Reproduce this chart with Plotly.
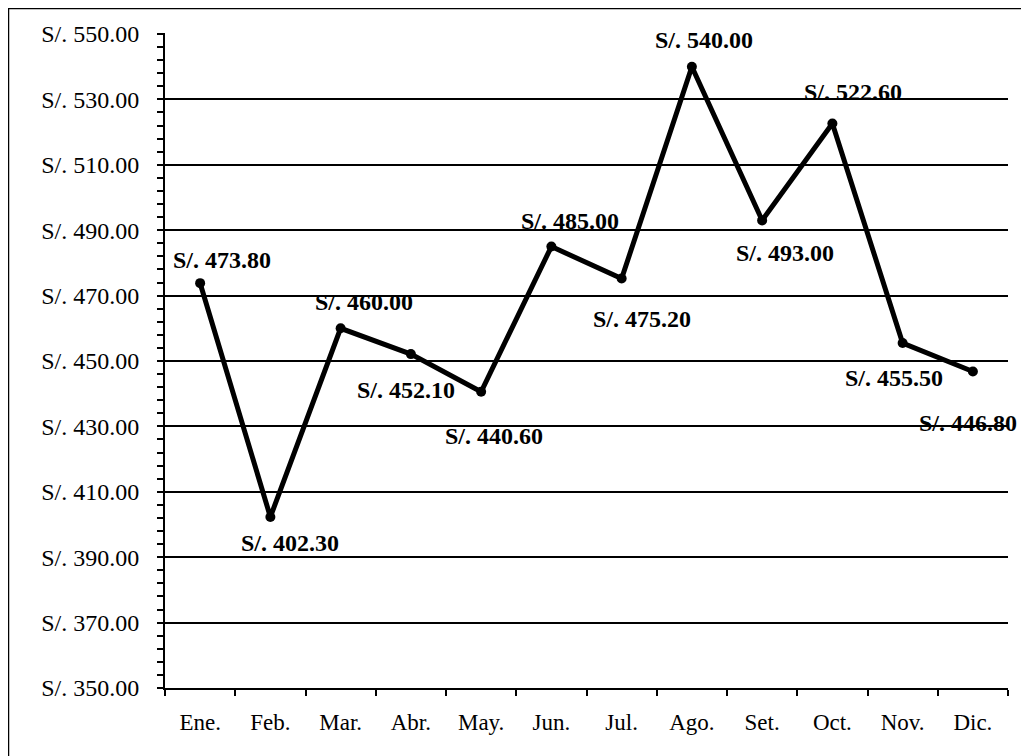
import plotly.graph_objects as go

# Meses y montos (S/.)
MESES = ["Ene.", "Feb.", "Mar.", "Abr.", "May.", "Jun.",
         "Jul.", "Ago.", "Set.", "Oct.", "Nov.", "Dic."]
MONTOS = [473.80, 402.30, 460.00, 452.10, 440.60, 485.00,
          475.20, 540.00, 493.00, 522.60, 455.50, 446.80]

# desplazamiento de cada etiqueta respecto a su punto (px: derecha, arriba)
OFFSETS = [(22, 23), (20, -26), (23, 26), (-5, -36), (13, -44), (19, 26),
           (20, -40), (12, 27), (23, -33), (21, 32), (-9, -35), (-5, -52)]

FONT = "Liberation Serif"

fig = go.Figure(go.Scatter(
    x=MESES, y=MONTOS, mode="lines+markers",
    line=dict(color="black", width=5),
    marker=dict(color="black", size=10),
    hoverinfo="skip",
))

for mes, v, (dx, dy) in zip(MESES, MONTOS, OFFSETS):
    fig.add_annotation(x=mes, y=v, xref="x", yref="y", text=f"<b>S/. {v:.2f}</b>",
                       showarrow=False, xshift=dx, yshift=dy,
                       font=dict(family=FONT, size=24, color="black"))

# marco exterior (borde de la figura)
fig.add_shape(type="rect", xref="paper", yref="paper",
              x0=-157 / 843, x1=1.2, y0=-0.3, y1=1 + 25 / 655,
              line=dict(color="black", width=2.5), layer="below")

fig.update_xaxes(
    type="category", range=[-0.5, len(MESES) - 0.5],
    showline=True, linecolor="black", linewidth=2,
    ticks="outside", tickson="boundaries", ticklen=6, tickcolor="black", tickwidth=1.5,
    showgrid=False, tickfont=dict(family=FONT, size=23, color="black"),
    ticklabelstandoff=12, automargin=False,
)
fig.update_yaxes(
    range=[350, 550.3], tick0=350, dtick=20, tickprefix="S/. ", tickformat=".2f",
    showline=True, linecolor="black", linewidth=2,
    ticks="outside", ticklen=6, tickcolor="black", tickwidth=1.5,
    minor=dict(tick0=350, dtick=4, ticks="outside", ticklen=6, tickcolor="black", showgrid=False),
    showgrid=True, gridcolor="black", gridwidth=1.5, zeroline=False,
    tickfont=dict(family=FONT, size=24, color="black"),
    ticklabelstandoff=13, automargin=False,
)

fig.update_layout(
    width=1029, height=756,
    margin=dict(l=157, r=29, t=25, b=76),
    plot_bgcolor="white", paper_bgcolor="white",
    showlegend=False,
)

fig.write_html("out.html")
